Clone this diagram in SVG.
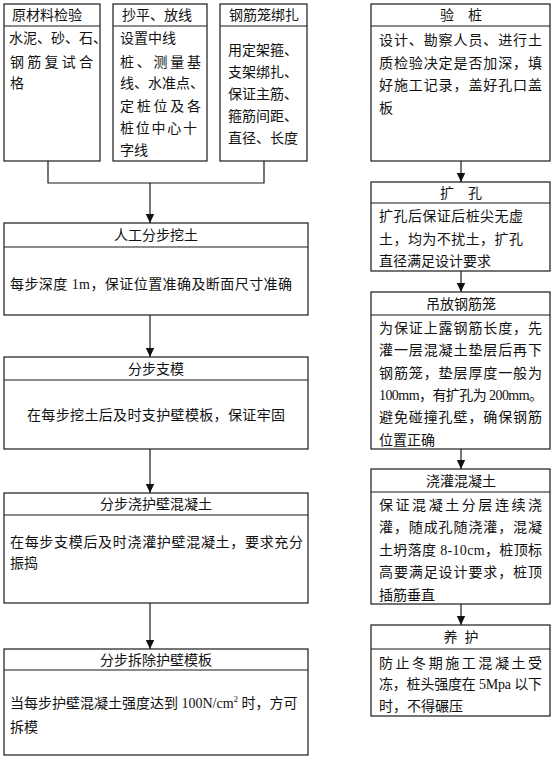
<svg xmlns="http://www.w3.org/2000/svg" width="553" height="763" viewBox="0 0 553 763">
<style>
.b{fill:#fff;stroke:#1a1a1a;stroke-width:1.2}
.l{fill:none;stroke:#1a1a1a;stroke-width:1.2}
text{font-family:"Liberation Serif","Noto Sans CJK SC",serif;font-size:14px;fill:#111}
.c{text-anchor:middle}
</style>
<defs>
<marker id="ah" markerUnits="userSpaceOnUse" markerWidth="10" markerHeight="10" refX="9" refY="5" orient="auto">
<path d="M0,0.8 L9,5 L0,9.2 Z" fill="#111"/>
</marker>
</defs>
<rect width="553" height="763" fill="#fff"/>

<g id="connectors">
<path class="l" d="M48,161 V183 H264 V161"/>
<path class="l" d="M150,183 V223" marker-end="url(#ah)"/>
<path class="l" d="M150,315 V357" marker-end="url(#ah)"/>
<path class="l" d="M150,449 V493" marker-end="url(#ah)"/>
<path class="l" d="M150,603 V649" marker-end="url(#ah)"/>
<path class="l" d="M461,161 V182" marker-end="url(#ah)"/>
<path class="l" d="M461,271 V292" marker-end="url(#ah)"/>
<path class="l" d="M461,449 V469" marker-end="url(#ah)"/>
<path class="l" d="M461,604 V625" marker-end="url(#ah)"/>
</g>

<g id="n_yuancailiao">
<rect class="b" x="4" y="4" width="96" height="157"/>
<line class="l" x1="4" y1="26" x2="100" y2="26"/>
<text x="47" y="20" class="c">原材料检验</text>
<text x="9" y="43" font-size="12.5">水泥、砂、石、</text>
<text x="10" y="67" textLength="83" lengthAdjust="spacing">钢筋复试合</text>
<text x="10" y="88">格</text>
</g>

<g id="n_chaoping">
<rect class="b" x="113" y="4" width="94" height="157"/>
<line class="l" x1="113" y1="26" x2="207" y2="26"/>
<text x="157" y="20" class="c">抄平、放线</text>
<text x="120" y="43">设置中线</text>
<text x="120" y="67" textLength="81" lengthAdjust="spacing">桩、测量基</text>
<text x="120" y="88">线、水准点、</text>
<text x="120" y="111" textLength="81" lengthAdjust="spacing">定桩位及各</text>
<text x="120" y="133" textLength="77" lengthAdjust="spacing">桩位中心十</text>
<text x="120" y="155">字线</text>
</g>

<g id="n_gangjinlong">
<rect class="b" x="220" y="4" width="87" height="157"/>
<line class="l" x1="220" y1="26" x2="307" y2="26"/>
<text x="264" y="20" class="c">钢筋笼绑扎</text>
<text x="228" y="55">用定架箍、</text>
<text x="228" y="77">支架绑扎、</text>
<text x="228" y="99">保证主筋、</text>
<text x="228" y="121">箍筋间距、</text>
<text x="228" y="143">直径、长度</text>
</g>

<g id="n_watu">
<rect class="b" x="4" y="223" width="304" height="92"/>
<line class="l" x1="4" y1="247" x2="308" y2="247"/>
<text x="156" y="240" class="c">人工分步挖土</text>
<text x="10" y="289" textLength="282" lengthAdjust="spacing">每步深度 1m，保证位置准确及断面尺寸准确</text>
</g>

<g id="n_zhimo">
<rect class="b" x="4" y="357" width="304" height="92"/>
<line class="l" x1="4" y1="380" x2="308" y2="380"/>
<text x="156" y="374" class="c">分步支模</text>
<text x="27" y="420" textLength="258" lengthAdjust="spacing">在每步挖土后及时支护壁模板，保证牢固</text>
</g>

<g id="n_jiaohubi">
<rect class="b" x="4" y="493" width="304" height="110"/>
<line class="l" x1="4" y1="515" x2="308" y2="515"/>
<text x="156" y="509" class="c">分步浇护壁混凝土</text>
<text x="10" y="547" textLength="293" lengthAdjust="spacing">在每步支模后及时浇灌护壁混凝土，要求充分</text>
<text x="10" y="568">振捣</text>
</g>

<g id="n_chaichu">
<rect class="b" x="4" y="649" width="304" height="106"/>
<line class="l" x1="4" y1="670" x2="308" y2="670"/>
<text x="156" y="665" class="c">分步拆除护壁模板</text>
<text x="10" y="708">当每步护壁混凝土强度达到 100N/cm<tspan font-size="9" dy="-6">2</tspan><tspan dy="6"> 时，方可</tspan></text>
<text x="10" y="732">拆模</text>
</g>

<g id="n_yanzhuang">
<rect class="b" x="371" y="4" width="179" height="157"/>
<line class="l" x1="371" y1="26" x2="550" y2="26"/>
<text x="461" y="20" class="c" xml:space="preserve">验    桩</text>
<text x="379" y="45" textLength="163" lengthAdjust="spacing">设计、勘察人员、进行土</text>
<text x="379" y="68" textLength="163" lengthAdjust="spacing">质检验决定是否加深，填</text>
<text x="379" y="90" textLength="163" lengthAdjust="spacing">好施工记录，盖好孔口盖</text>
<text x="379" y="113">板</text>
</g>

<g id="n_kuokong">
<rect class="b" x="371" y="182" width="179" height="89"/>
<line class="l" x1="371" y1="203" x2="550" y2="203"/>
<text x="461" y="198" class="c" xml:space="preserve">扩    孔</text>
<text x="379" y="221" textLength="144" lengthAdjust="spacing">扩孔后保证后桩尖无虚</text>
<text x="379" y="244" textLength="144" lengthAdjust="spacing">土，均为不扰土，扩孔</text>
<text x="379" y="266">直径满足设计要求</text>
</g>

<g id="n_diaofang">
<rect class="b" x="371" y="292" width="179" height="157"/>
<line class="l" x1="371" y1="315" x2="550" y2="315"/>
<text x="461" y="309" class="c">吊放钢筋笼</text>
<text x="379" y="333" textLength="163" lengthAdjust="spacing">为保证上露钢筋长度，先</text>
<text x="379" y="355" textLength="163" lengthAdjust="spacing">灌一层混凝土垫层后再下</text>
<text x="379" y="378" textLength="163" lengthAdjust="spacing">钢筋笼，垫层厚度一般为</text>
<text x="379" y="400" textLength="164" lengthAdjust="spacing">100mm，有扩孔为 200mm。</text>
<text x="379" y="422" textLength="163" lengthAdjust="spacing">避免碰撞孔壁，确保钢筋</text>
<text x="379" y="445">位置正确</text>
</g>

<g id="n_jiaoguan">
<rect class="b" x="371" y="469" width="179" height="135"/>
<line class="l" x1="371" y1="492" x2="550" y2="492"/>
<text x="461" y="486" class="c">浇灌混凝土</text>
<text x="379" y="510" textLength="163" lengthAdjust="spacing">保证混凝土分层连续浇</text>
<text x="379" y="532" textLength="163" lengthAdjust="spacing">灌，随成孔随浇灌，混凝</text>
<text x="379" y="555" textLength="163" lengthAdjust="spacing">土坍落度 8-10cm，桩顶标</text>
<text x="379" y="577" textLength="163" lengthAdjust="spacing">高要满足设计要求，桩顶</text>
<text x="379" y="600">插筋垂直</text>
</g>

<g id="n_yanghu">
<rect class="b" x="371" y="625" width="179" height="91"/>
<line class="l" x1="371" y1="649" x2="550" y2="649"/>
<text x="461" y="642" class="c" xml:space="preserve">养  护</text>
<text x="379" y="668" textLength="163" lengthAdjust="spacing">防止冬期施工混凝土受</text>
<text x="379" y="689" textLength="163" lengthAdjust="spacing">冻，桩头强度在 5Mpa 以下</text>
<text x="379" y="711">时，不得碾压</text>
</g>
</svg>
